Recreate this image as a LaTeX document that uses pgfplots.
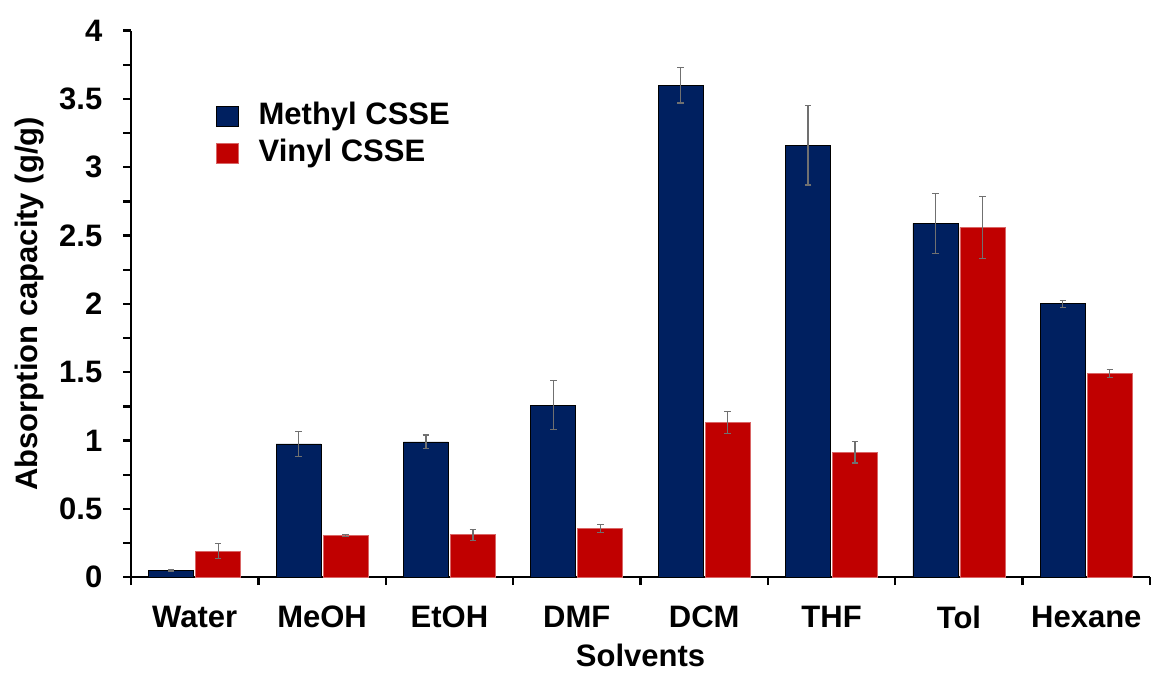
\documentclass[border=0pt]{standalone}
\usepackage{pgfplots}
\pgfplotsset{compat=1.18}
\usepackage{fontspec}
\setmainfont{Liberation Sans}
\definecolor{navy}{HTML}{002060}
\definecolor{dred}{HTML}{C00000}
\definecolor{errgray}{HTML}{707070}
\begin{document}
\fontsize{15.5}{18}\selectfont\bfseries
\begin{tikzpicture}
\useasboundingbox (0,0) rectangle (577pt,336.5pt);
\begin{axis}[
  at={(65.5pt,47.9pt)}, anchor=south west,
  scale only axis,
  width=509.5pt, height=273.3pt,
  xmin=-0.5, xmax=7.5,
  ymin=0, ymax=4,
  axis lines*=left,
  axis line style={line width=1.2pt, black},
  xtick={0,...,7},
  xticklabels={Water,MeOH,EtOH,DMF,DCM,THF,Tol,Hexane},
  minor xtick={-0.5,0.5,...,7.5},
  ytick={0,0.5,...,4},
  minor ytick={0.25,0.75,...,3.75},
  yticklabels={0,0.5,1,1.5,2,2.5,3,3.5,4},
  tick align=outside,
  major x tick style={draw=none},
  minor x tick style={line width=1.2pt, black},
  major y tick style={line width=1.2pt, black},
  minor y tick style={line width=1.2pt, black},
  major tick length=4pt, minor tick length=4pt,
  tick label style={font=\fontsize{15.5}{18}\selectfont\bfseries},
  xticklabel style={yshift=-5pt},
  yticklabel style={xshift=-5pt},
  label style={font=\fontsize{15.5}{18}\selectfont\bfseries},
  xlabel={Solvents},
  ylabel={Absorption capacity (g/g)},
  xlabel style={yshift=3pt},
  ylabel style={yshift=-3pt},
  ybar, bar width=22.5pt,
  legend style={draw=none, fill=none, at={(0.077,0.884)}, anchor=north west,
    font=\fontsize{15.5}{18}\selectfont\bfseries, row sep=1pt, column sep=8pt,
    legend cell align=left},
  legend image code/.code={\fill[#1] (0pt,-5pt) rectangle (11pt,5pt);},
  error bars/y dir=both, error bars/y explicit,
  error bars/error bar style={errgray, line width=0.6pt},
  error bars/error mark options={errgray, rotate=90, mark size=1.6pt, line width=0.6pt},
  clip=false,
]
\addplot[fill=navy, draw=black, line width=0.4pt, bar shift=-11.75pt,
  error bars/y dir=both, error bars/y explicit]
  coordinates {
  (0,0.05) +- (0,0.005)
  (1,0.975) +- (0,0.09)
  (2,0.99) +- (0,0.05)
  (3,1.26) +- (0,0.18)
  (4,3.60) +- (0,0.13)
  (5,3.16) +- (0,0.29)
  (6,2.59) +- (0,0.22)
  (7,2.00) +- (0,0.025)
  };
\addlegendentry{Methyl CSSE}
\addplot[fill=dred, draw=dred!60, line width=0.4pt, bar shift=11.75pt,
  error bars/y dir=both, error bars/y explicit]
  coordinates {
  (0,0.19) +- (0,0.055)
  (1,0.305) +- (0,0.008)
  (2,0.31) +- (0,0.04)
  (3,0.355) +- (0,0.03)
  (4,1.13) +- (0,0.08)
  (5,0.915) +- (0,0.08)
  (6,2.56) +- (0,0.225)
  (7,1.49) +- (0,0.03)
  };
\addlegendentry{Vinyl CSSE}
\end{axis}
\end{tikzpicture}
\end{document}
